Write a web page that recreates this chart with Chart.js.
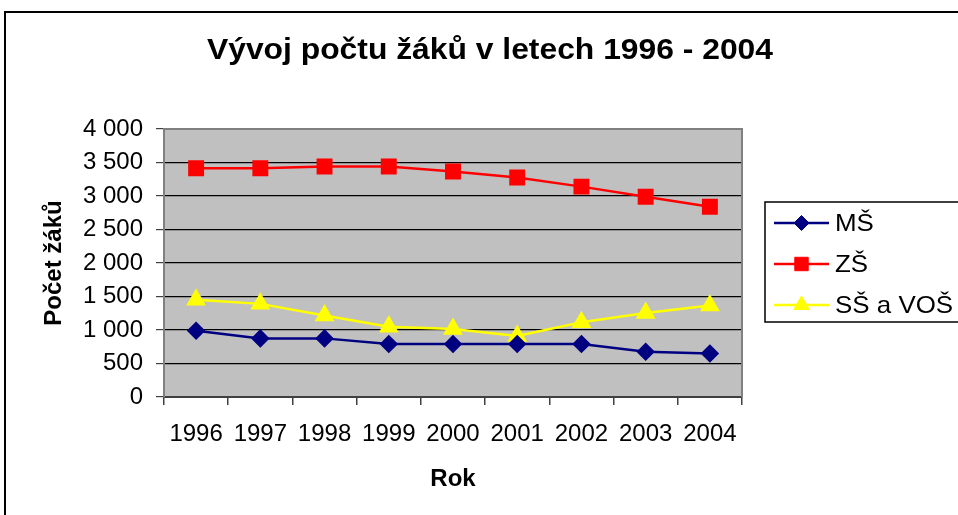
<!DOCTYPE html>
<html>
<head>
<meta charset="utf-8">
<script src="https://cdn.jsdelivr.net/npm/chart.js"></script>
<style>
  html, body { margin: 0; padding: 0; background: #fff; }
  #wrap { width: 958px; height: 515px; }
</style>
</head>
<body>
<div id="wrap"><canvas id="chart" width="958" height="515"></canvas></div>
<script>
const years = ["1996", "1997", "1998", "1999", "2000", "2001", "2002", "2003", "2004"];
const msValues = [990, 875, 875, 790, 790, 790, 790, 675, 650];
const zsValues = [3415, 3415, 3440, 3440, 3365, 3275, 3140, 2990, 2840];
const ssValues = [1450, 1390, 1215, 1050, 1015, 910, 1115, 1255, 1365];
const seriesNames = ["MŠ", "ZŠ", "SŠ a VOŠ"];

const chartTitle = "Vývoj počtu žáků v letech 1996 - 2004";
const yTitle = "Počet žáků";
const xTitle = "Rok";

const FONT = "'Liberation Sans', Arial, sans-serif";

function formatThousands(v) {
  return String(v).replace(/\B(?=(\d{3})+(?!\d))/g, " ");
}

// draws text squeezed/stretched to a given width
function fillTextWidth(ctx, text, x, y, width) {
  const w = ctx.measureText(text).width;
  ctx.save();
  ctx.translate(x, y);
  ctx.scale(width / w, 1);
  ctx.fillText(text, 0, 0);
  ctx.restore();
}

// Background, outer frame and the grey plot area
const framePlugin = {
  id: "frame",
  beforeDraw(chart) {
    const ctx = chart.ctx;
    const a = chart.chartArea;
    ctx.save();
    ctx.fillStyle = "#ffffff";
    ctx.fillRect(0, 0, chart.width, chart.height);
    ctx.strokeStyle = "#000";
    ctx.lineWidth = 2;
    ctx.strokeRect(5, 12, chart.width + 20, chart.height + 20);
    ctx.fillStyle = "#c0c0c0";
    ctx.fillRect(a.left, a.top, a.right - a.left, a.bottom - a.top);
    ctx.restore();
  },
  beforeDatasetsDraw(chart) {
    const ctx = chart.ctx;
    const a = chart.chartArea;
    ctx.save();
    ctx.strokeStyle = "#808080";
    ctx.lineWidth = 2;
    ctx.beginPath();
    ctx.moveTo(a.left, a.top);
    ctx.lineTo(a.right, a.top);
    ctx.lineTo(a.right, a.bottom);
    ctx.stroke();
    ctx.restore();
  },
};

// Title, axis titles and the boxed legend
const textPlugin = {
  id: "texts",
  afterDraw(chart) {
    const ctx = chart.ctx;
    const a = chart.chartArea;
    ctx.save();
    ctx.fillStyle = "#000";

    ctx.font = "bold 29px " + FONT;
    ctx.textAlign = "center";
    ctx.textBaseline = "alphabetic";
    fillTextWidth(ctx, chartTitle, 490, 59, 566);

    ctx.font = "bold 24px " + FONT;
    ctx.fillText(xTitle, (a.left + a.right) / 2, 486);

    ctx.save();
    ctx.translate(61, 263);
    ctx.rotate(-Math.PI / 2);
    ctx.font = "bold 24px " + FONT;
    ctx.fillText(yTitle, 0, 0);
    ctx.restore();

    // legend
    ctx.strokeStyle = "#000";
    ctx.lineWidth = 1.5;
    ctx.strokeRect(765, 202, 220, 120);
    const rows = [223, 264, 305];
    chart.data.datasets.forEach((ds, i) => {
      const y = rows[i];
      ctx.strokeStyle = ds.borderColor;
      ctx.lineWidth = ds.borderWidth;
      ctx.beginPath();
      ctx.moveTo(774, y);
      ctx.lineTo(829, y);
      ctx.stroke();
      ctx.fillStyle = ds.pointBackgroundColor;
      ctx.strokeStyle = ds.pointBorderColor;
      ctx.lineWidth = 1;
      Chart.helpers.drawPoint(ctx, { pointStyle: ds.pointStyle, radius: ds.pointRadius, rotation: 0, borderWidth: 1 }, 801.5, y);
      ctx.fillStyle = "#000";
      ctx.font = "24px " + FONT;
      ctx.textBaseline = "middle";
      const w = ctx.measureText(ds.label).width * 1.08;
      ctx.textAlign = "center";
      fillTextWidth(ctx, ds.label, 835 + w / 2, y + 1, w);
    });
    ctx.restore();
  },
};

const ctx = document.getElementById("chart");

new Chart(ctx, {
  type: "line",
  data: {
    labels: years,
    datasets: [
      {
        label: seriesNames[0],
        data: msValues,
        borderColor: "#000080",
        borderWidth: 2.5,
        pointStyle: "rectRot",
        pointRadius: 7.5,
        pointBackgroundColor: "#000080",
        pointBorderColor: "#000080",
        tension: 0,
      },
      {
        label: seriesNames[1],
        data: zsValues,
        borderColor: "#ff0000",
        borderWidth: 2.5,
        pointStyle: "rect",
        pointRadius: 9.5,
        pointBackgroundColor: "#ff0000",
        pointBorderColor: "#ff0000",
        tension: 0,
      },
      {
        label: seriesNames[2],
        data: ssValues,
        borderColor: "#ffff00",
        borderWidth: 2.5,
        pointStyle: "triangle",
        pointRadius: 9,
        pointBackgroundColor: "#ffff00",
        pointBorderColor: "#ffff00",
        tension: 0,
      },
    ],
  },
  options: {
    responsive: false,
    animation: false,
    events: [],
    layout: { padding: { top: 129, right: 216, left: 0, bottom: 0 } },
    plugins: {
      legend: { display: false },
      title: { display: false },
      tooltip: { enabled: false },
    },
    scales: {
      x: {
        offset: true,
        afterFit: (scale) => { scale.height = 118; },
        grid: {
          offset: true,
          drawOnChartArea: false,
          drawTicks: true,
          tickLength: 8,
          tickColor: "#404040",
          lineWidth: 1.5,
        },
        border: { color: "#404040", width: 2 },
        ticks: {
          color: "#000",
          font: { family: FONT, size: 24 },
          padding: 15,
          maxRotation: 0,
          autoSkip: false,
        },
      },
      y: {
        min: 0,
        max: 4000,
        afterFit: (scale) => { scale.width = 164; },
        grid: {
          color: "#000",
          lineWidth: 1.2,
          tickLength: 8,
          tickColor: "#404040",
        },
        border: { color: "#808080", width: 2 },
        ticks: {
          stepSize: 500,
          color: "#000",
          font: { family: FONT, size: 24 },
          padding: 13,
          callback: (v) => formatThousands(v),
        },
      },
    },
  },
  plugins: [framePlugin, textPlugin],
});
</script>
</body>
</html>
